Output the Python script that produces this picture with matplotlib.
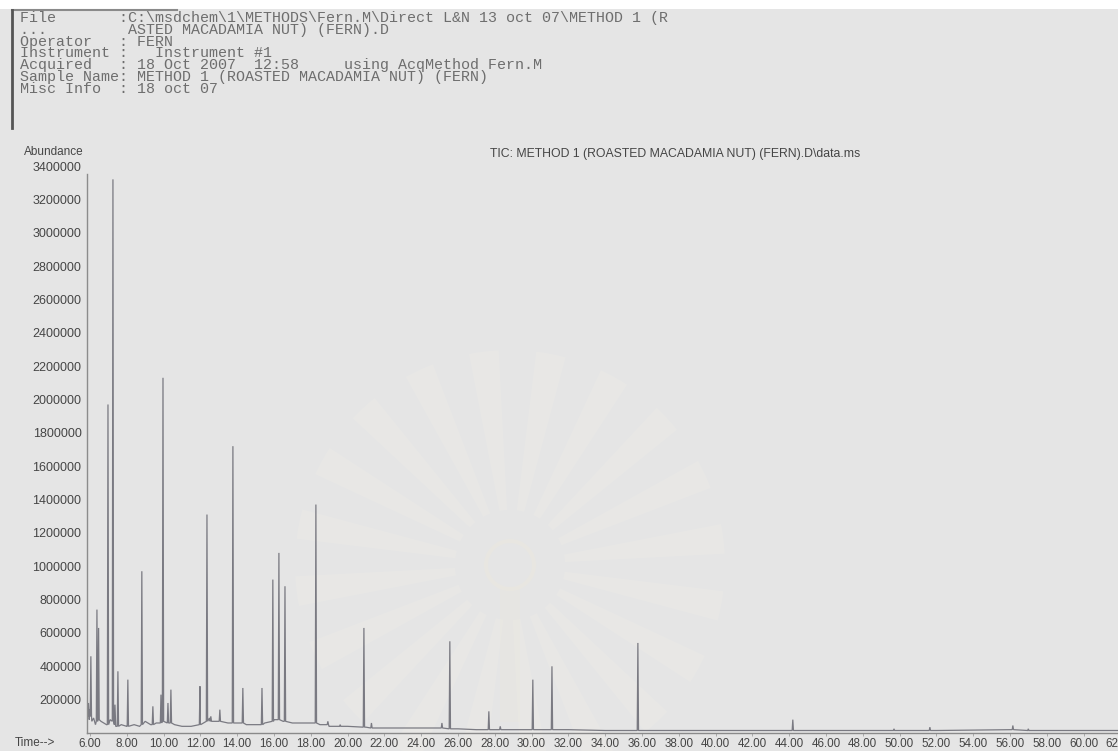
import matplotlib

matplotlib.use('Agg')
import matplotlib.pyplot as plt
import numpy as np
from matplotlib.patches import Rectangle, Wedge, Circle
from matplotlib.lines import Line2D
from matplotlib.transforms import IdentityTransform

W, H = 1118, 751

# ---- data (time in min, abundance in counts) ----
baseline_time = [5.84, 5.88, 5.92, 5.96, 6.0, 6.1, 6.2, 6.3, 6.6, 6.9,
                 7.1, 7.4, 7.7, 8.0, 8.4, 8.7, 9.0, 9.3, 9.6, 10.0,
                 10.6, 11.0, 11.5, 12.0, 12.5, 13.0, 13.5, 14.0, 14.5, 15.0,
                 15.5, 16.0, 16.5, 17.0, 17.5, 18.0, 18.5, 19.0, 19.5, 20.0,
                 21.0, 22.0, 23.0, 24.0, 25.0, 26.0, 27.0, 28.0, 30.0, 32.0,
                 34.0, 36.0, 38.0, 40.0, 44.0, 48.0, 52.0, 56.0, 60.0, 63.0]
baseline_abund = [240000, 100000, 180000, 80000, 140000, 70000, 90000, 50000, 70000, 50000,
                  80000, 40000, 50000, 40000, 50000, 40000, 70000, 50000, 60000, 80000,
                  50000, 40000, 40000, 60000, 90000, 70000, 60000, 60000, 50000, 50000,
                  60000, 80000, 70000, 60000, 60000, 60000, 50000, 40000, 40000, 40000,
                  35000, 30000, 30000, 30000, 30000, 25000, 20000, 20000, 20000, 20000,
                  15000, 15000, 15000, 15000, 15000, 15000, 15000, 20000, 15000, 15000]

peak_time = [6.05, 6.38, 6.47, 6.98, 7.25, 7.36, 7.52, 8.06, 8.82, 9.42,
             9.86, 9.97, 10.24, 10.40, 11.98, 12.36, 12.57, 13.06, 13.77, 14.31,
             15.35, 15.94, 16.27, 16.60, 18.28, 18.93, 19.6, 20.89, 21.3, 25.13,
             25.56, 27.68, 28.3, 30.07, 31.11, 35.78, 44.20, 49.7, 51.65, 56.16, 57.0]
peak_abund = [460000, 740000, 630000, 1970000, 3320000, 170000, 370000, 320000, 970000, 160000,
              230000, 2130000, 180000, 260000, 280000, 1310000, 100000, 140000, 1720000, 270000,
              270000, 920000, 1080000, 880000, 1370000, 70000, 50000, 630000, 60000, 60000,
              550000, 130000, 40000, 320000, 400000, 540000, 80000, 25000, 35000, 45000, 25000]
peak_base = [100000, 70000, 80000, 50000, 70000, 50000, 40000, 40000, 50000, 50000,
             60000, 70000, 60000, 60000, 50000, 70000, 70000, 70000, 60000, 60000,
             50000, 70000, 80000, 70000, 60000, 50000, 40000, 35000, 30000, 30000,
             25000, 20000, 20000, 20000, 20000, 15000, 15000, 15000, 15000, 20000, 15000]

y_ticks = list(range(200000, 3400001, 200000))
x_ticks = list(range(6, 63, 2))

header_lines = [
    'File       :C:\\msdchem\\1\\METHODS\\Fern.M\\Direct L&N 13 oct 07\\METHOD 1 (R',
    '...         ASTED MACADAMIA NUT) (FERN).D',
    'Operator   : FERN',
    'Instrument :   Instrument #1',
    'Acquired   : 18 Oct 2007  12:58     using AcqMethod Fern.M',
    'Sample Name: METHOD 1 (ROASTED MACADAMIA NUT) (FERN)',
    'Misc Info  : 18 oct 07',
]
tic_title = 'TIC: METHOD 1 (ROASTED MACADAMIA NUT) (FERN).D\\data.ms'

# ---- figure ----
plt.rcParams['font.family'] = ['Liberation Sans', 'DejaVu Sans']
fig = plt.figure(figsize=(W / 100, H / 100), dpi=100)
fig.patch.set_facecolor('#e5e5e5')


def fx(px):
    return px / W


def fy(py):
    return 1 - py / H


# faint watermark behind the plot (rays + emblem)
px_tr = IdentityTransform()
cx, cy = 510, H - 565
for k in range(20):
    a0 = k * 18 + 3
    fig.add_artist(Wedge((cx, cy), 215, a0, a0 + 8, width=160, transform=px_tr,
                         facecolor='#efede6', edgecolor='none', alpha=0.3, zorder=0))
fig.add_artist(Circle((cx, cy), 24, transform=px_tr, facecolor='none',
                      edgecolor='#ebe8df', lw=3, alpha=0.5, zorder=0))
fig.add_artist(Rectangle((cx - 10, H - 722), 20, 135, transform=px_tr,
                         facecolor='#eae7df', edgecolor='none', alpha=0.4, zorder=0))

# white strip at the very top + header frame
fig.add_artist(Rectangle((0, fy(9)), 1, 9 / H, transform=fig.transFigure,
                         facecolor='white', edgecolor='none'))
fig.add_artist(Line2D([fx(12), fx(177)], [fy(10), fy(10)], transform=fig.transFigure,
                      color='#8a8a8a', lw=1.5))
fig.add_artist(Line2D([fx(12), fx(12)], [fy(10), fy(128)], transform=fig.transFigure,
                      color='#555555', lw=2))

for i, line in enumerate(header_lines):
    fig.text(fx(20), fy(18 + i * 11.8), line, family='Liberation Mono', fontsize=10.8,
             color='#6e6e6e', ha='left', va='center')

# ---- chromatogram axes ----
ax = fig.add_axes([fx(87), fy(733), fx(1140 - 87), (733 - 166) / H])
ax.set_facecolor('none')

# assemble the trace: baseline knots plus each narrow peak
hw = 0.035
t_all = list(baseline_time)
y_all = list(baseline_abund)
for t, h, b in zip(peak_time, peak_abund, peak_base):
    t_all += [t - hw, t, t + hw]
    y_all += [b, h, b]
t_all = np.array(t_all)
y_all = np.array(y_all)
order = np.argsort(t_all, kind='stable')
ax.plot(t_all[order], y_all[order], color='#7a7a82', lw=0.9, solid_joinstyle='miter')

ax.set_xlim(5.84, 63.07)
ax.set_ylim(0, 3400000)

for s in ['top', 'right']:
    ax.spines[s].set_visible(False)
ax.spines['left'].set_color('#8c8c8c')
ax.spines['bottom'].set_color('#8a8a8a')
ax.spines['left'].set_linewidth(1.0)
ax.spines['bottom'].set_linewidth(1.0)
ax.spines['left'].set_bounds(0, 3350000)

ax.set_yticks(y_ticks)
ax.set_yticklabels([str(v) for v in y_ticks])
ax.set_xticks(x_ticks)
ax.set_xticklabels(['%.2f' % v for v in x_ticks])
ax.tick_params(axis='y', length=0, pad=4, labelsize=9, labelcolor='#454545')
ax.tick_params(axis='x', length=2, width=0.6, color='#a0a0a0', pad=1.5,
               labelsize=8.4, labelcolor='#454545')

fig.text(fx(84), fy(152), 'Abundance', ha='right', va='center', fontsize=8.5, color='#454545')
fig.text(fx(15), fy(743), 'Time-->', ha='left', va='center', fontsize=8.5, color='#454545')
fig.text(fx(490), fy(154), tic_title, ha='left', va='center', fontsize=8.8, color='#454545')

fig.savefig('out.png', dpi=100, facecolor=fig.get_facecolor())
print('OK')
